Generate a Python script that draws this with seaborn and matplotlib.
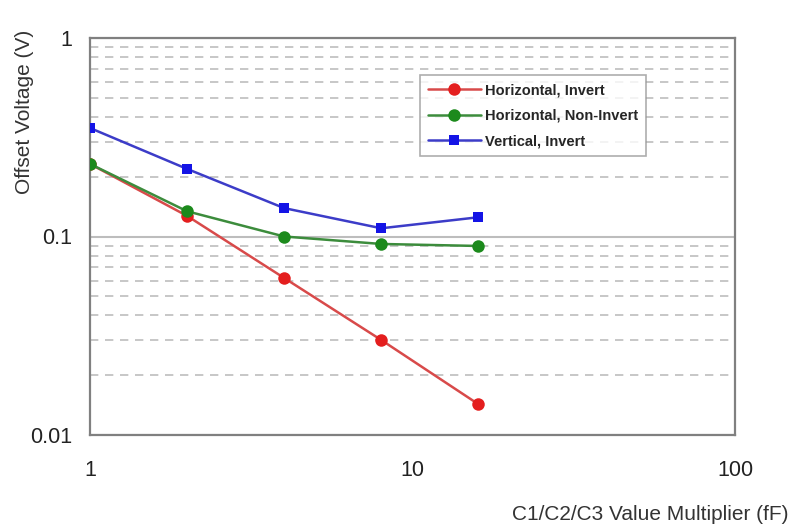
import matplotlib
matplotlib.use("Agg")
import matplotlib.pyplot as plt
import seaborn as sns
import pandas as pd
from matplotlib.ticker import LogLocator, FixedLocator, NullFormatter

multiplier = [1, 2, 4, 8, 16]
horiz_invert = [0.232, 0.127, 0.0618, 0.0301, 0.0143]
horiz_noninvert = [0.232, 0.134, 0.100, 0.0917, 0.0896]
vert_invert = [0.352, 0.219, 0.139, 0.110, 0.125]
series_names = ["Horizontal, Invert", "Horizontal, Non-Invert", "Vertical, Invert"]
x_ticks = [1, 10, 100]
x_ticklabels = ["1", "10", "100"]
y_ticks = [0.01, 0.1, 1]
y_ticklabels = ["0.01", "0.1", "1"]

sns.set_theme(style="white")
plt.rcParams["font.family"] = ["Liberation Sans", "DejaVu Sans"]

fig = plt.figure(figsize=(7.91, 5.31), dpi=100)
ax = fig.add_axes([90/791, 1-435/531, 645/791, 397/531])

styles = [
    (horiz_invert, "#e41e1e", "#d84a4a", "o", 9),
    (horiz_noninvert, "#1c8a1c", "#3c8c3c", "o", 9),
    (vert_invert, "#1414e6", "#3c3cc8", "s", 7.5),
]
for name, (vals, mcol, lcol, mk, ms) in zip(series_names, styles):
    df = pd.DataFrame({"x": multiplier, "y": vals})
    sns.lineplot(data=df, x="x", y="y", ax=ax, color=lcol, lw=1.8,
                 marker=mk, markersize=ms, markerfacecolor=mcol,
                 markeredgecolor=mcol, markeredgewidth=0, label=name, zorder=3)

ax.set_xscale("log")
ax.set_yscale("log")
ax.set_xlim(1, 100)
ax.set_ylim(0.01, 1)

ax.xaxis.set_major_locator(FixedLocator(x_ticks))
ax.set_xticklabels(x_ticklabels)
ax.xaxis.set_minor_formatter(NullFormatter())
ax.yaxis.set_major_locator(FixedLocator(y_ticks))
ax.set_yticklabels(y_ticklabels)
ax.yaxis.set_minor_locator(LogLocator(base=10, subs=range(2, 10)))
ax.yaxis.set_minor_formatter(NullFormatter())
ax.tick_params(axis="both", which="both", length=0, labelsize=15.5, colors="#222222")
ax.tick_params(axis="x", pad=18)
ax.tick_params(axis="y", pad=13)

ax.yaxis.grid(True, which="minor", color="#bdbdbd", linestyle=(0, (5, 4)), lw=1.2)
ax.yaxis.grid(True, which="major", color="#bdbdbd", linestyle="-", lw=1.5)
ax.xaxis.grid(False, which="both")

for s in ax.spines.values():
    s.set_color("#808080")
    s.set_linewidth(1.6)

ax.set_xlabel("C1/C2/C3 Value Multiplier (fF)", fontsize=15, color="#333333")
ax.xaxis.set_label_coords((789-90)/645, (435-505)/397)
ax.xaxis.label.set_horizontalalignment("right")
ax.xaxis.label.set_verticalalignment("top")

ax.set_ylabel("Offset Voltage (V)", fontsize=15, color="#333333")
ax.yaxis.set_label_coords((25-90)/645, (435-112)/397)
ax.yaxis.label.set_verticalalignment("center")

leg = ax.legend(loc="upper left", bbox_to_anchor=((420-90)/645, (435-75)/397),
                borderaxespad=0, fontsize=10.5, frameon=True, fancybox=False,
                handlelength=3.6, labelspacing=0.8, borderpad=0.55,
                handletextpad=0.3)
leg.get_frame().set_edgecolor("#999999")
leg.get_frame().set_linewidth(1.2)
for t in leg.get_texts():
    t.set_fontweight("bold")

fig.savefig("out.png", dpi=100)
